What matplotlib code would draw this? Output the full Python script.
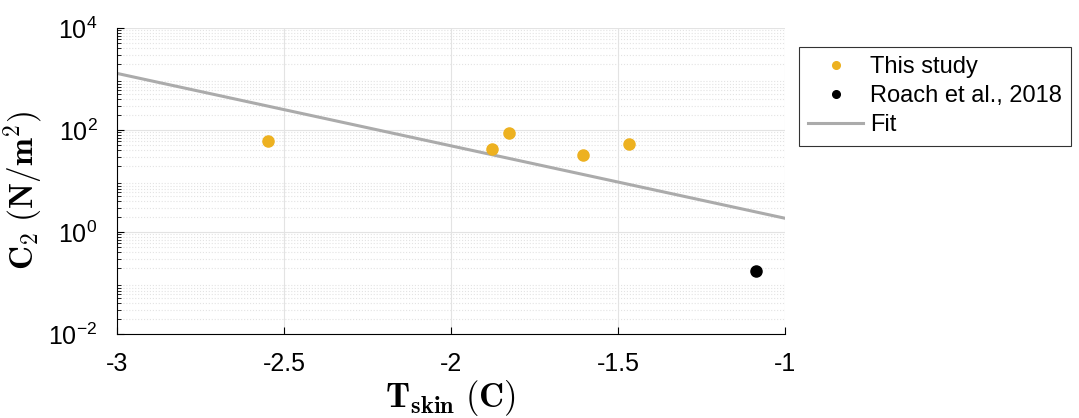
import numpy as np
import matplotlib
matplotlib.use("Agg")
import matplotlib.pyplot as plt
from matplotlib.ticker import LogLocator, FixedLocator

plt.rcParams['font.family'] = ['Liberation Sans', 'DejaVu Sans']
plt.rcParams['mathtext.fontset'] = 'custom'
plt.rcParams['mathtext.rm'] = 'Liberation Sans'
plt.rcParams['mathtext.it'] = 'Liberation Sans:italic'
plt.rcParams['mathtext.bf'] = 'Liberation Sans:bold'

# datos
t_study = [-2.547, -1.876, -1.825, -1.603, -1.468]
c2_study = [61, 42, 86, 32, 54]
t_roach = [-1.085]
c2_roach = [0.174]
# ajuste: log10(C2) = fit_a + fit_b*T
fit_a = -1.15
fit_b = -1.42
t_fit = np.linspace(-3, -1, 50)
c2_fit = 10**(fit_a + fit_b*t_fit)

naranja = '#EDB120'
gris = '#ababab'

fig = plt.figure(figsize=(10.79, 4.18), dpi=100)
ax = fig.add_axes([0.1084, 0.201, 0.619, 0.732])

ax.plot(t_study, c2_study, 'o', color=naranja, ms=8, label='This study', zorder=3)
ax.plot(t_roach, c2_roach, 'o', color='k', ms=8, label='Roach et al., 2018', zorder=3)
ax.plot(t_fit, c2_fit, '-', color=gris, lw=2.2, label='Fit', zorder=2)

ax.set_yscale('log')
ax.set_xlim(-3, -1)
ax.set_ylim(1e-2, 1e4)
ax.xaxis.set_major_locator(FixedLocator([-3, -2.5, -2, -1.5, -1]))
ax.set_xticklabels(['-3', '-2.5', '-2', '-1.5', '-1'])
ax.yaxis.set_major_locator(FixedLocator([1e-2, 1, 1e2, 1e4]))
ax.yaxis.set_minor_locator(LogLocator(base=10, subs=np.arange(2, 10), numticks=20))
ax.set_yticklabels([r'$\mathregular{10^{-2}}$', r'$\mathregular{10^{0}}$',
                    r'$\mathregular{10^{2}}$', r'$\mathregular{10^{4}}$'])
ax.tick_params(axis='both', which='both', direction='in', labelsize=18)
ax.tick_params(which='major', length=5)
ax.tick_params(which='minor', length=3)
ax.tick_params(axis='x', pad=13)
ax.tick_params(axis='y', pad=14)

ax.grid(True, which='major', color='#e3e3e3', lw=0.8)
ax.grid(True, which='minor', axis='y', color='#e3e3e3', lw=0.8, ls=':')
ax.set_axisbelow(True)
ax.spines['top'].set_visible(False)
ax.spines['right'].set_visible(False)

ax.set_xlabel(r'$\mathbf{T_{skin}}$ $\mathbf{(C)}$', fontsize=25, math_fontfamily='cm')
ax.set_ylabel(r'$\mathbf{C_2}$ $\mathbf{(N/m^2)}$', fontsize=24, math_fontfamily='cm')
ax.xaxis.set_label_coords(0.5, -0.145)
ax.yaxis.set_label_coords(-0.108, 0.47)

leg = ax.legend(loc='upper left', bbox_to_anchor=(799/1079, 1 - 46.7/418),
                bbox_transform=fig.transFigure, fontsize=17, frameon=True,
                fancybox=False, edgecolor='k', handlelength=2.3, handletextpad=0.3,
                labelspacing=0.3, borderpad=0.4, borderaxespad=0)
leg.get_frame().set_linewidth(0.8)
for h in leg.legend_handles[:2]:
    h.set_markersize(5.5)

fig.savefig('out.png', dpi=100)
